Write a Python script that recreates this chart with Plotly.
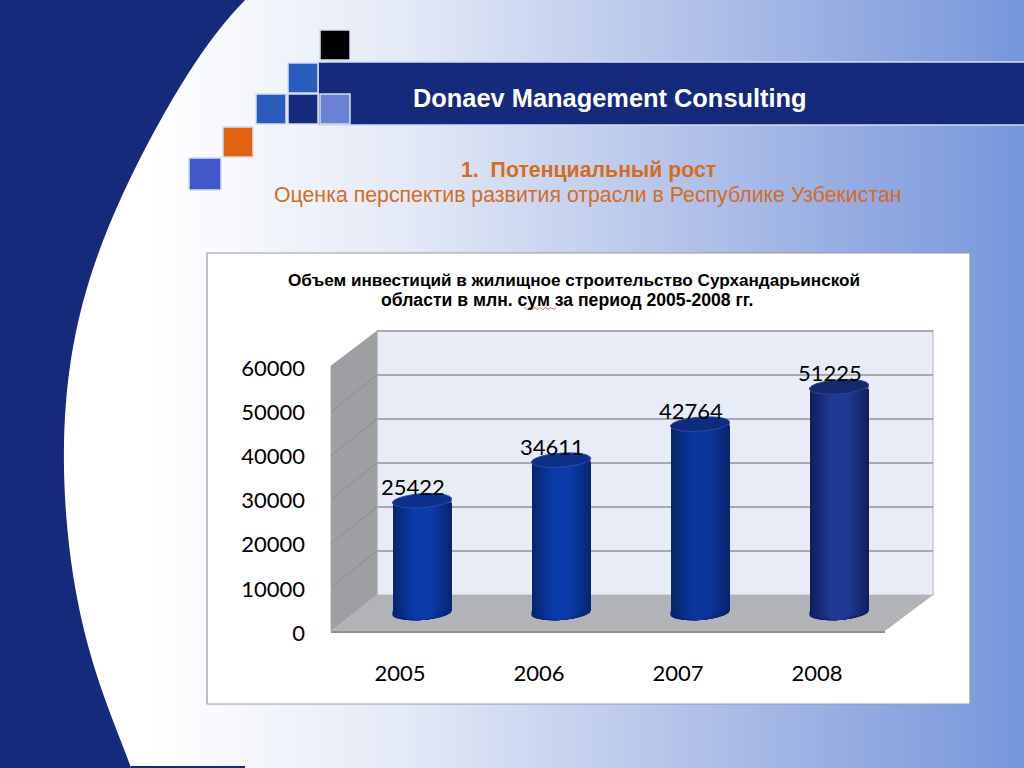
import numpy as np
import plotly.graph_objects as go

years = [2005, 2006, 2007, 2008]
invest = [25422, 34611, 42764, 51225]
y_ticks = [0, 10000, 20000, 30000, 40000, 50000, 60000]
header_text = "Donaev Management Consulting"
sub_1 = "1.  Потенциальный рост"
sub_2 = "Оценка перспектив развития отрасли в Республике Узбекистан"
title_1 = "Объем инвестиций в жилищное строительство Сурхандарьинской"
title_2 = "области в млн. сум за период 2005-2008 гг."

W, H = 1024, 768
px = lambda x: x / W
py = lambda y: 1 - y / H
NAVY = "#152a7a"
shapes = []


def lerp(c1, c2, t):
    a = [int(c1[i:i + 2], 16) for i in (1, 3, 5)]
    b = [int(c2[i:i + 2], 16) for i in (1, 3, 5)]
    return "rgb(%d,%d,%d)" % tuple(round(a[i] + (b[i] - a[i]) * t) for i in range(3))


def rect(x0, y0, x1, y1, fill, line=None, lw=0, layer="below"):
    shapes.append(dict(type="rect", xref="paper", yref="paper", x0=px(x0), x1=px(x1), y0=py(y0), y1=py(y1),
                       fillcolor=fill, line=dict(color=line or fill, width=lw), layer=layer))


def poly(pts, fill, line=None, lw=0):
    d = "M" + " L".join(f"{px(a):.5f},{py(b):.5f}" for a, b in pts) + " Z"
    shapes.append(dict(type="path", xref="paper", yref="paper", path=d, fillcolor=fill,
                       line=dict(color=line or fill, width=lw), layer="below"))


# page background gradient
stops_x = [0, 150, 400, 700, 1024]
stops_r = [255, 255, 228, 176, 118]
stops_g = [255, 255, 234, 192, 150]
stops_b = [255, 255, 247, 232, 220]
step = 8
for x in range(0, W, step):
    c = "rgb(%d,%d,%d)" % (np.interp(x, stops_x, stops_r), np.interp(x, stops_x, stops_g), np.interp(x, stops_x, stops_b))
    rect(x, 0, x + step + 1, H, c)

# navy curved band, boundary
edge_y = [0, 20, 87, 150, 200, 250, 300, 350, 400, 450, 500, 550, 600, 650, 700, 768]
edge_x = [245, 227, 180, 144, 120, 100, 84, 72, 66, 64, 65, 70, 78, 88, 106, 131]
coef = np.polyfit(edge_y, edge_x, 7)
curve_y = np.linspace(0, 768, 97)
curve = [(0, 0)] + [(float(np.polyval(coef, v)), float(v)) for v in curve_y] + [(0, 768)]
poly(curve, NAVY)
rect(131, 766, 245, 768, NAVY)

# header band and squares
EDGE = "#d3ddf0"
rect(318, 62, 1030, 125, NAVY, EDGE, 1.5)
for (x0, y0, x1, y1, c) in [
    (320, 30, 350, 60, "#000000"), (288, 63, 318, 93, "#2a5cbc"), (256, 94, 286, 124, "#2a5cbc"),
    (288, 94, 318, 124, NAVY), (320, 94, 350, 124, "#6a82d2"), (223, 127, 253, 157, "#e3620f"),
    (189, 158, 221, 190, "#4358c8")]:
    rect(x0, y0, x1, y1, c, EDGE, 1.5)

# chart panel
rect(207, 253, 970, 704, "#ffffff", "#9a9a9a", 1.2)

# 3D box
BACK_L, BACK_R, BACK_T, BACK_B = 377, 933, 331, 595
FRONT_L, FRONT_R, FRONT_T, FRONT_B = 331, 885, 368, 631
rect(BACK_L, BACK_T, BACK_R, BACK_B, "#e8ecf6", "#b8bbc2", 1.2)
rect(BACK_L, BACK_T - 1, BACK_R, BACK_T + 1, "#a6a9ad")
poly([(FRONT_L, FRONT_T - 2), (BACK_L, BACK_T), (BACK_L, BACK_B), (FRONT_L, FRONT_B)], "#9d9fa2", "#a8aaad", 1)
for v in y_ticks[1:-1]:
    f = FRONT_B - (FRONT_B - FRONT_T) * v / 60000
    b = BACK_B - (BACK_B - BACK_T) * v / 60000
    shapes.append(dict(type="line", xref="paper", yref="paper", x0=px(FRONT_L), x1=px(BACK_L), y0=py(f), y1=py(b),
                       line=dict(color="#8c8e91", width=1), layer="below"))
poly([(BACK_L, BACK_B), (BACK_R, BACK_B), (FRONT_R, FRONT_B), (FRONT_L, FRONT_B)], "#b1b3b6")
rect(FRONT_L, FRONT_B, FRONT_R, FRONT_B + 2, "#8f9194")

# squiggle under the word flagged in the source
sq = "M" + " L".join(f"{px(524 + i * 2.7):.5f},{py(307.5 + (i % 2) * 2):.5f}" for i in range(13))
shapes.append(dict(type="path", xref="paper", yref="paper", path=sq, line=dict(color="#d04030", width=0.8), layer="below"))

# bars
BAR_W = 0.424
UNITS_PER_PX = 60000 / 265
RY = 7 * UNITS_PER_PX
TILT = 2 * UNITS_PER_PX
EDGE_C = ["#06256f", "#06256f", "#07246c", "#101e60"]
MID_C = ["#0a3ba8", "#0a3ba8", "#0b369c", "#1f3a92"]
TOP_C = ["#0c2f8c", "#0c2f8c", "#0e2b80", "#16286f"]
RIM_C = ["#2c4ea8", "#2c4ea8", "#2c4a9e", "#2d4488"]
n_steps = 20
fracs = [1 - i / n_steps for i in range(n_steps)]


def ellipse_path(cx, half_w, cy):
    pts = []
    for a in np.linspace(0, 2 * np.pi, 48, endpoint=False):
        pts.append((cx + half_w * np.cos(a), cy + RY * np.sin(a) + TILT * np.cos(a) * (half_w / (BAR_W / 2))))
    return "M" + " L".join(f"{a:.4f},{b:.2f}" for a, b in pts) + " Z"


fig = go.Figure()
# grid subplot (drawn first)
fig.add_trace(go.Scatter(x=years, y=invest, xaxis="x", yaxis="y", mode="markers", marker=dict(opacity=0), hoverinfo="skip", showlegend=False))
# front axis subplot
fig.add_trace(go.Scatter(x=years, y=invest, xaxis="x2", yaxis="y2", mode="markers", marker=dict(opacity=0), hoverinfo="skip", showlegend=False))

# wedge that fills the tilted base at the left side of each cylinder
for k, yr in enumerate(years):
    xl, xr = yr - BAR_W / 2, yr + BAR_W / 2
    shapes.append(dict(type="path", xref="x3", yref="y3", path=f"M{xl},{TILT} L{xr},{TILT} L{xl},{-TILT} Z",
                       fillcolor=EDGE_C[k], line=dict(width=0), layer="below"))

for i, fr in enumerate(fracs):
    t = min(1, (i / (n_steps - 1)) * 1.4)
    colors = [lerp(EDGE_C[k], MID_C[k], t) for k in range(4)]
    # the side of the cylinder runs between the tilted end caps, centred on 0 and on the value
    fig.add_trace(go.Bar(x=years, y=[v - 2 * TILT for v in invest], base=TILT, xaxis="x3", yaxis="y3", width=BAR_W * fr,
                         marker=dict(color=colors, line=dict(width=0)), hoverinfo="skip", showlegend=False))
    for k, yr in enumerate(years):
        shapes.append(dict(type="path", xref="x3", yref="y3", path=ellipse_path(yr, BAR_W * fr / 2, 0),
                           fillcolor=colors[k], line=dict(width=0), layer="below"))

for k, yr in enumerate(years):
    xl, xr = yr - BAR_W / 2, yr + BAR_W / 2
    v = invest[k]
    shapes.append(dict(type="path", xref="x3", yref="y3", path=f"M{xl},{v - TILT} L{xr},{v - TILT} L{xr},{v + TILT} Z",
                       fillcolor=EDGE_C[k], line=dict(width=0), layer="above"))
    shapes.append(dict(type="path", xref="x3", yref="y3", path=ellipse_path(yr, BAR_W / 2, v),
                       fillcolor=TOP_C[k], line=dict(color=RIM_C[k], width=1), layer="above"))

ann = []
for k, yr in enumerate(years):
    ann.append(dict(x=yr, y=invest[k], xref="x3", yref="y3", text=str(invest[k]), showarrow=False, xshift=-9, yshift=14, yanchor="middle",
                    font=dict(family="Lato", size=22, color="#000000")))


def label(x, y, text, size, color, bold=False):
    ann.append(dict(x=px(x), y=py(y), xref="paper", yref="paper", text=f"<b>{text}</b>" if bold else text, showarrow=False,
                    xanchor="center", yanchor="middle", font=dict(family="Liberation Sans", size=size, color=color)))


ORANGE = "#d56c1e"
label(610, 98, header_text, 25.4, "#ffffff", True)
label(588, 170, sub_1, 21.3, ORANGE, True)
label(587.5, 195, sub_2, 21.3, ORANGE)
label(573.5, 280, title_1, 17.15, "#000000", True)
label(567, 300, title_2, 17.6, "#000000", True)


def dom(a, b, size):
    return [a / size, b / size]


common = dict(showline=False, zeroline=False, automargin=False)
fig.update_layout(
    width=W, height=H, margin=dict(l=0, r=0, t=0, b=0), showlegend=False, barmode="overlay", bargap=0,
    paper_bgcolor="rgba(0,0,0,0)", plot_bgcolor="rgba(0,0,0,0)", shapes=shapes, annotations=ann,
    # back wall grid
    xaxis=dict(domain=dom(BACK_L, BACK_R, W), range=[2004.5, 2008.5], showgrid=False, showticklabels=False, ticks="", anchor="y", **common),
    yaxis=dict(domain=[py(BACK_B), py(BACK_T)], range=[0, 60000], tickvals=y_ticks, showgrid=True, gridcolor="#a6a9ad", gridwidth=2,
               showticklabels=False, ticks="", anchor="x", **common),
    # front axis with tick labels
    xaxis2=dict(domain=dom(330.5, 886.5, W), range=[2004.5, 2008.5], tickvals=years, tickformat="d", showgrid=False, ticks="outside", ticklen=21,
                tickcolor="rgba(0,0,0,0)", tickfont=dict(family="Lato", size=22, color="#000000"), anchor="y2", **common),
    yaxis2=dict(domain=[py(633), py(368)], range=[0, 60000], tickvals=y_ticks, tickformat="d", showgrid=False, ticks="outside", ticklen=20,
                tickcolor="rgba(0,0,0,0)", tickfont=dict(family="Lato", size=22, color="#000000"), anchor="x2", **common),
    # bars, set back in depth; range runs below zero so the cylinder base is not clipped
    xaxis3=dict(domain=dom(352.5, 908.5, W), range=[2004.5, 2008.5], visible=False, anchor="y3"),
    yaxis3=dict(domain=[py(613 + 20), py(613 - 265)], range=[-20 * UNITS_PER_PX, 60000], visible=False, anchor="x3"),
)
fig.write_html("out.html", post_script="document.body.style.margin='0';", config=dict(displayModeBar=False))
